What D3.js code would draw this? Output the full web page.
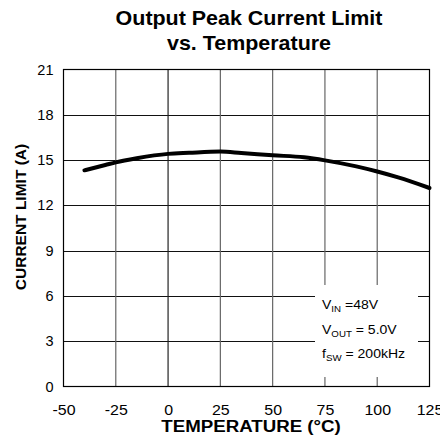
<!DOCTYPE html>
<html><head><meta charset="utf-8">
<script src="https://cdn.jsdelivr.net/npm/d3@7"></script>
<style>html,body{margin:0;padding:0;background:#fff}</style>
</head><body>
<svg id="chart" width="440" height="441"></svg>
<script>
// Output peak current limit vs. junction temperature
const temperatures = [-40, -30, -25, -15, 0, 10, 25, 35, 50, 65, 75, 90, 100, 110, 125];
const currentLimit = [14.32, 14.67, 14.85, 15.12, 15.41, 15.48, 15.56, 15.47, 15.32, 15.18, 14.98, 14.58, 14.24, 13.85, 13.15];

const xTicks = [-50, -25, 0, 25, 50, 75, 100, 125];
const yTicks = [0, 3, 6, 9, 12, 15, 18, 21];

const titleLines = ["Output Peak Current Limit", "vs. Temperature"];
const xLabel = "TEMPERATURE (°C)";
const yLabel = "CURRENT LIMIT (A)";

// Test conditions: symbol, subscript, remainder
const condSymbol = ["V", "V", "f"];
const condSub = ["IN", "OUT", "SW"];
const condRest = [" =48V", " = 5.0V", " = 200kHz"];

const FONT = "'Liberation Sans', Arial, Helvetica, sans-serif";
const svg = d3.select("#chart");

const plot = { left: 63.5, right: 429.5, top: 69.5, bottom: 386.5 };

const x = d3.scaleLinear().domain([-50, 125]).range([plot.left, plot.right]);
const y = d3.scaleLinear().domain([0, 21]).range([plot.bottom, plot.top]);

// Text with a slight horizontal widening
function label(parent, str, px, py, size, weight, anchor, sx) {
  return parent.append("text")
    .attr("transform", `translate(${px},${py}) scale(${sx},1)`)
    .attr("font-family", FONT)
    .attr("font-size", size)
    .attr("font-weight", weight)
    .attr("text-anchor", anchor)
    .attr("fill", "#000")
    .text(str);
}

// Title
titleLines.forEach((t, i) => label(svg, t, 249, 24.5 + i * 25, 19.5, "bold", "middle", 1.1));

// Grid
const grid = svg.append("g");
grid.selectAll("line.h").data(yTicks.filter(v => v > 0 && v < 21)).join("line")
  .attr("x1", plot.left).attr("x2", plot.right)
  .attr("y1", d => Math.round(y(d)) + 0.5).attr("y2", d => Math.round(y(d)) + 0.5)
  .attr("stroke", "#111").attr("stroke-width", 1);
grid.selectAll("line.v").data(xTicks.filter(v => v > -50 && v < 125)).join("line")
  .attr("y1", plot.top).attr("y2", plot.bottom)
  .attr("x1", d => x(d)).attr("x2", d => x(d))
  .attr("stroke", d => d === 0 ? "#222" : "#666").attr("stroke-width", 1.2);

// Conditions box (blanks the grid behind it)
svg.append("rect")
  .attr("x", 315).attr("y", 285).attr("width", 103).attr("height", 92)
  .attr("fill", "#fff");

const cond = svg.append("g");
condSymbol.forEach((s, i) => {
  const t = cond.append("text")
    .attr("transform", `translate(322,${309 + i * 24.5}) scale(1.08,1)`)
    .attr("font-family", FONT).attr("font-size", 13).attr("fill", "#000");
  t.append("tspan").text(s);
  t.append("tspan").attr("font-size", 9).attr("dy", 3).text(condSub[i]);
  t.append("tspan").attr("dy", -3).text(condRest[i]);
});

// Plot frame
svg.append("rect")
  .attr("x", plot.left).attr("y", plot.top)
  .attr("width", plot.right - plot.left).attr("height", plot.bottom - plot.top)
  .attr("fill", "none").attr("stroke", "#000").attr("stroke-width", 1.2);

// Axes via d3 axis generators, tick marks hidden
const tickText = d => String(d);
const xAxis = svg.append("g").attr("transform", `translate(0,${plot.bottom})`)
  .call(d3.axisBottom(x).tickValues(xTicks).tickSize(0).tickPadding(18).tickFormat(tickText));
xAxis.select(".domain").remove();
xAxis.selectAll("text").attr("font-family", FONT).attr("font-size", 14.5).attr("fill", "#000")
  .attr("transform", "scale(1.1,1)");

const yAxis = svg.append("g").attr("transform", `translate(${plot.left},0)`)
  .call(d3.axisLeft(y).tickValues(yTicks).tickSize(0).tickPadding(10).tickFormat(tickText));
yAxis.select(".domain").remove();
yAxis.selectAll("text").attr("font-family", FONT).attr("font-size", 14.5).attr("fill", "#000");

// Axis titles
label(svg, xLabel, 251, 432, 17, "bold", "middle", 1.1);
svg.append("text")
  .attr("transform", "translate(26,217) rotate(-90)")
  .attr("font-family", FONT).attr("font-size", 15.5).attr("font-weight", "bold")
  .attr("text-anchor", "middle").attr("fill", "#000")
  .text(yLabel);

// Curve
const line = d3.line()
  .x((d, i) => x(temperatures[i]))
  .y(d => y(d))
  .curve(d3.curveMonotoneX);
svg.append("path")
  .datum(currentLimit)
  .attr("d", line)
  .attr("fill", "none")
  .attr("stroke", "#000")
  .attr("stroke-width", 4)
  .attr("stroke-linecap", "round");
</script>
</body></html>
